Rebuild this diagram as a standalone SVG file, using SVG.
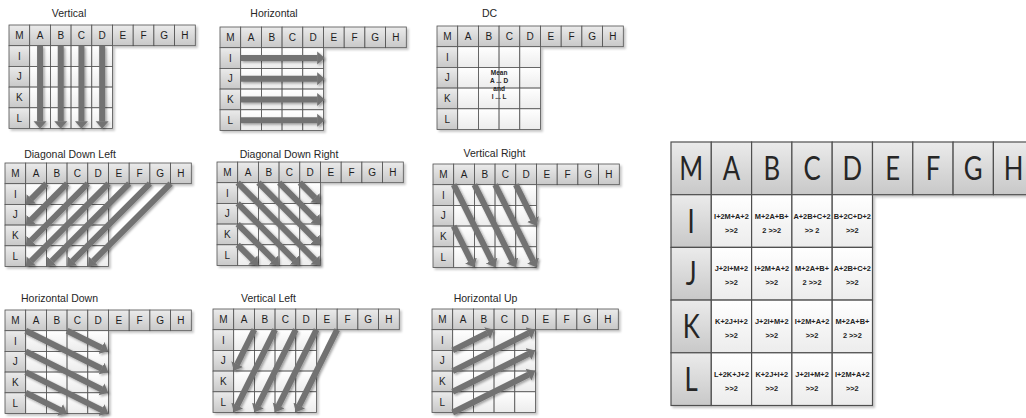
<svg xmlns="http://www.w3.org/2000/svg" xmlns:xlink="http://www.w3.org/1999/xlink" width="1026" height="418" viewBox="0 0 1026 418">
<style>
.t{font-family:"Liberation Sans",Arial,sans-serif;font-size:10.5px;fill:#262626;text-anchor:middle}
.l{font-family:"Liberation Sans",Arial,sans-serif;font-size:10px;fill:#1e1e1e;text-anchor:middle}
.h{fill:url(#gh);stroke:#505050;stroke-width:0.8}
.b{fill:url(#gb);stroke:#505050;stroke-width:0.8}
.H{fill:url(#gh);stroke:#505050;stroke-width:1.2}
.B{fill:url(#gb);stroke:#505050;stroke-width:1.2}
.big{font-family:Lato,"Liberation Sans",Arial,sans-serif;font-weight:400;font-size:33px;fill:#262626;text-anchor:middle}
.f{font-family:"Liberation Sans",Arial,sans-serif;font-weight:bold;font-size:7.4px;fill:#222;text-anchor:middle}
.dc{font-family:"Liberation Sans",Arial,sans-serif;font-weight:bold;font-size:6.5px;fill:#222;text-anchor:middle}
.a{stroke:#727272;stroke-width:6;fill:none;marker-end:url(#ah)}
</style>
<defs>
<linearGradient id="gh" x1="0" y1="0" x2="0" y2="1"><stop offset="0" stop-color="#ebebeb"/><stop offset="1" stop-color="#c8c8c8"/></linearGradient>
<linearGradient id="gb" x1="0" y1="0" x2="0" y2="1"><stop offset="0" stop-color="#ffffff"/><stop offset="1" stop-color="#ececec"/></linearGradient>
<filter id="gs" x="-10%" y="-10%" width="130%" height="130%"><feDropShadow dx="2" dy="2" stdDeviation="1" flood-color="#000" flood-opacity="0.22"/></filter>
<filter id="ash" x="-10%" y="-10%" width="130%" height="130%"><feDropShadow dx="1.5" dy="1.5" stdDeviation="0.8" flood-color="#000" flood-opacity="0.35"/></filter>
<marker id="ah" viewBox="0 -7 8 14" markerWidth="8" markerHeight="14" refX="0.3" refY="0" markerUnits="userSpaceOnUse" orient="auto"><path d="M0,-6.5 L7.5,0 L0,6.5 Z" fill="#727272"/></marker>
<g id="cells">
<rect class="h" x="0" y="0" width="20.7" height="20.7"/><rect class="h" x="20.7" y="0" width="20.7" height="20.7"/><rect class="h" x="41.4" y="0" width="20.7" height="20.7"/><rect class="h" x="62.1" y="0" width="20.7" height="20.7"/><rect class="h" x="82.8" y="0" width="20.7" height="20.7"/><rect class="h" x="103.5" y="0" width="20.7" height="20.7"/><rect class="h" x="124.2" y="0" width="20.7" height="20.7"/><rect class="h" x="144.9" y="0" width="20.7" height="20.7"/><rect class="h" x="165.6" y="0" width="20.7" height="20.7"/>
<rect class="h" x="0" y="20.7" width="20.7" height="20.7"/><rect class="h" x="0" y="41.4" width="20.7" height="20.7"/><rect class="h" x="0" y="62.1" width="20.7" height="20.7"/><rect class="h" x="0" y="82.8" width="20.7" height="20.7"/>
<rect class="b" x="20.7" y="20.7" width="20.7" height="20.7"/><rect class="b" x="41.4" y="20.7" width="20.7" height="20.7"/><rect class="b" x="62.1" y="20.7" width="20.7" height="20.7"/><rect class="b" x="82.8" y="20.7" width="20.7" height="20.7"/>
<rect class="b" x="20.7" y="41.4" width="20.7" height="20.7"/><rect class="b" x="41.4" y="41.4" width="20.7" height="20.7"/><rect class="b" x="62.1" y="41.4" width="20.7" height="20.7"/><rect class="b" x="82.8" y="41.4" width="20.7" height="20.7"/>
<rect class="b" x="20.7" y="62.1" width="20.7" height="20.7"/><rect class="b" x="41.4" y="62.1" width="20.7" height="20.7"/><rect class="b" x="62.1" y="62.1" width="20.7" height="20.7"/><rect class="b" x="82.8" y="62.1" width="20.7" height="20.7"/>
<rect class="b" x="20.7" y="82.8" width="20.7" height="20.7"/><rect class="b" x="41.4" y="82.8" width="20.7" height="20.7"/><rect class="b" x="62.1" y="82.8" width="20.7" height="20.7"/><rect class="b" x="82.8" y="82.8" width="20.7" height="20.7"/>
</g>
</defs>
<rect width="1026" height="418" fill="#ffffff"/>

<g id="g-vertical" transform="translate(9,25)">
<text class="t" x="60" y="-8">Vertical</text>
<use xlink:href="#cells" href="#cells" filter="url(#gs)"/>
<text class="l" x="10.35" y="14">M</text><text class="l" x="31.05" y="14">A</text><text class="l" x="51.75" y="14">B</text><text class="l" x="72.45" y="14">C</text><text class="l" x="93.15" y="14">D</text><text class="l" x="113.85" y="14">E</text><text class="l" x="134.55" y="14">F</text><text class="l" x="155.25" y="14">G</text><text class="l" x="175.95" y="14">H</text>
<text class="l" x="10.35" y="34.65">I</text><text class="l" x="10.35" y="55.35">J</text><text class="l" x="10.35" y="76.05">K</text><text class="l" x="10.35" y="96.75">L</text>
</g>

<g id="g-horizontal" transform="translate(220,27)">
<text class="t" x="54" y="-10">Horizontal</text>
<use xlink:href="#cells" href="#cells" filter="url(#gs)"/>
<text class="l" x="10.35" y="14">M</text><text class="l" x="31.05" y="14">A</text><text class="l" x="51.75" y="14">B</text><text class="l" x="72.45" y="14">C</text><text class="l" x="93.15" y="14">D</text><text class="l" x="113.85" y="14">E</text><text class="l" x="134.55" y="14">F</text><text class="l" x="155.25" y="14">G</text><text class="l" x="175.95" y="14">H</text>
<text class="l" x="10.35" y="34.65">I</text><text class="l" x="10.35" y="55.35">J</text><text class="l" x="10.35" y="76.05">K</text><text class="l" x="10.35" y="96.75">L</text>
</g>

<g id="g-dc" transform="translate(437,26)">
<text class="t" x="52.5" y="-9">DC</text>
<use xlink:href="#cells" href="#cells" filter="url(#gs)"/>
<text class="l" x="10.35" y="14">M</text><text class="l" x="31.05" y="14">A</text><text class="l" x="51.75" y="14">B</text><text class="l" x="72.45" y="14">C</text><text class="l" x="93.15" y="14">D</text><text class="l" x="113.85" y="14">E</text><text class="l" x="134.55" y="14">F</text><text class="l" x="155.25" y="14">G</text><text class="l" x="175.95" y="14">H</text>
<text class="l" x="10.35" y="34.65">I</text><text class="l" x="10.35" y="55.35">J</text><text class="l" x="10.35" y="76.05">K</text><text class="l" x="10.35" y="96.75">L</text>
<text class="dc" x="62.1" y="48.5">Mean</text><text class="dc" x="62.1" y="56.5">A ... D</text><text class="dc" x="62.1" y="64.5">and</text><text class="dc" x="62.1" y="72.5">I ... L</text>
</g>

<g id="g-diag-down-left" transform="translate(5,163)">
<text class="t" x="65" y="-5">Diagonal Down Left</text>
<use xlink:href="#cells" href="#cells" filter="url(#gs)"/>
<text class="l" x="10.35" y="14">M</text><text class="l" x="31.05" y="14">A</text><text class="l" x="51.75" y="14">B</text><text class="l" x="72.45" y="14">C</text><text class="l" x="93.15" y="14">D</text><text class="l" x="113.85" y="14">E</text><text class="l" x="134.55" y="14">F</text><text class="l" x="155.25" y="14">G</text><text class="l" x="175.95" y="14">H</text>
<text class="l" x="10.35" y="34.65">I</text><text class="l" x="10.35" y="55.35">J</text><text class="l" x="10.35" y="76.05">K</text><text class="l" x="10.35" y="96.75">L</text>
</g>

<g id="g-diag-down-right" transform="translate(217,162)">
<text class="t" x="72" y="-4">Diagonal Down Right</text>
<use xlink:href="#cells" href="#cells" filter="url(#gs)"/>
<text class="l" x="10.35" y="14">M</text><text class="l" x="31.05" y="14">A</text><text class="l" x="51.75" y="14">B</text><text class="l" x="72.45" y="14">C</text><text class="l" x="93.15" y="14">D</text><text class="l" x="113.85" y="14">E</text><text class="l" x="134.55" y="14">F</text><text class="l" x="155.25" y="14">G</text><text class="l" x="175.95" y="14">H</text>
<text class="l" x="10.35" y="34.65">I</text><text class="l" x="10.35" y="55.35">J</text><text class="l" x="10.35" y="76.05">K</text><text class="l" x="10.35" y="96.75">L</text>
</g>

<g id="g-vertical-right" transform="translate(433,164)">
<text class="t" x="61.5" y="-7">Vertical Right</text>
<use xlink:href="#cells" href="#cells" filter="url(#gs)"/>
<text class="l" x="10.35" y="14">M</text><text class="l" x="31.05" y="14">A</text><text class="l" x="51.75" y="14">B</text><text class="l" x="72.45" y="14">C</text><text class="l" x="93.15" y="14">D</text><text class="l" x="113.85" y="14">E</text><text class="l" x="134.55" y="14">F</text><text class="l" x="155.25" y="14">G</text><text class="l" x="175.95" y="14">H</text>
<text class="l" x="10.35" y="34.65">I</text><text class="l" x="10.35" y="55.35">J</text><text class="l" x="10.35" y="76.05">K</text><text class="l" x="10.35" y="96.75">L</text>
</g>

<g id="g-horizontal-down" transform="translate(5,310)">
<text class="t" x="54.5" y="-8">Horizontal Down</text>
<use xlink:href="#cells" href="#cells" filter="url(#gs)"/>
<text class="l" x="10.35" y="14">M</text><text class="l" x="31.05" y="14">A</text><text class="l" x="51.75" y="14">B</text><text class="l" x="72.45" y="14">C</text><text class="l" x="93.15" y="14">D</text><text class="l" x="113.85" y="14">E</text><text class="l" x="134.55" y="14">F</text><text class="l" x="155.25" y="14">G</text><text class="l" x="175.95" y="14">H</text>
<text class="l" x="10.35" y="34.65">I</text><text class="l" x="10.35" y="55.35">J</text><text class="l" x="10.35" y="76.05">K</text><text class="l" x="10.35" y="96.75">L</text>
</g>

<g id="g-vertical-left" transform="translate(213,309)">
<text class="t" x="55.5" y="-7.5">Vertical Left</text>
<use xlink:href="#cells" href="#cells" filter="url(#gs)"/>
<text class="l" x="10.35" y="14">M</text><text class="l" x="31.05" y="14">A</text><text class="l" x="51.75" y="14">B</text><text class="l" x="72.45" y="14">C</text><text class="l" x="93.15" y="14">D</text><text class="l" x="113.85" y="14">E</text><text class="l" x="134.55" y="14">F</text><text class="l" x="155.25" y="14">G</text><text class="l" x="175.95" y="14">H</text>
<text class="l" x="10.35" y="34.65">I</text><text class="l" x="10.35" y="55.35">J</text><text class="l" x="10.35" y="76.05">K</text><text class="l" x="10.35" y="96.75">L</text>
</g>

<g id="g-horizontal-up" transform="translate(432,309)">
<text class="t" x="53.5" y="-7">Horizontal Up</text>
<use xlink:href="#cells" href="#cells" filter="url(#gs)"/>
<text class="l" x="10.35" y="14">M</text><text class="l" x="31.05" y="14">A</text><text class="l" x="51.75" y="14">B</text><text class="l" x="72.45" y="14">C</text><text class="l" x="93.15" y="14">D</text><text class="l" x="113.85" y="14">E</text><text class="l" x="134.55" y="14">F</text><text class="l" x="155.25" y="14">G</text><text class="l" x="175.95" y="14">H</text>
<text class="l" x="10.35" y="34.65">I</text><text class="l" x="10.35" y="55.35">J</text><text class="l" x="10.35" y="76.05">K</text><text class="l" x="10.35" y="96.75">L</text>
</g>

<g id="g-table">
<g filter="url(#gs)">
<rect class="H" x="671" y="142" width="40.3" height="52.7"/><rect class="H" x="711.3" y="142" width="40.3" height="52.7"/><rect class="H" x="751.6" y="142" width="40.3" height="52.7"/><rect class="H" x="791.9" y="142" width="40.3" height="52.7"/><rect class="H" x="832.2" y="142" width="40.3" height="52.7"/><rect class="H" x="872.5" y="142" width="40.3" height="52.7"/><rect class="H" x="912.8" y="142" width="40.3" height="52.7"/><rect class="H" x="953.1" y="142" width="40.3" height="52.7"/><rect class="H" x="993.4" y="142" width="40.3" height="52.7"/>
<rect class="H" x="671" y="194.7" width="40.3" height="52.7"/><rect class="H" x="671" y="247.4" width="40.3" height="52.7"/><rect class="H" x="671" y="300.1" width="40.3" height="52.7"/><rect class="H" x="671" y="352.8" width="40.3" height="52.7"/>
<rect class="B" x="711.3" y="194.7" width="40.3" height="52.7"/><rect class="B" x="751.6" y="194.7" width="40.3" height="52.7"/><rect class="B" x="791.9" y="194.7" width="40.3" height="52.7"/><rect class="B" x="832.2" y="194.7" width="40.3" height="52.7"/>
<rect class="B" x="711.3" y="247.4" width="40.3" height="52.7"/><rect class="B" x="751.6" y="247.4" width="40.3" height="52.7"/><rect class="B" x="791.9" y="247.4" width="40.3" height="52.7"/><rect class="B" x="832.2" y="247.4" width="40.3" height="52.7"/>
<rect class="B" x="711.3" y="300.1" width="40.3" height="52.7"/><rect class="B" x="751.6" y="300.1" width="40.3" height="52.7"/><rect class="B" x="791.9" y="300.1" width="40.3" height="52.7"/><rect class="B" x="832.2" y="300.1" width="40.3" height="52.7"/>
<rect class="B" x="711.3" y="352.8" width="40.3" height="52.7"/><rect class="B" x="751.6" y="352.8" width="40.3" height="52.7"/><rect class="B" x="791.9" y="352.8" width="40.3" height="52.7"/><rect class="B" x="832.2" y="352.8" width="40.3" height="52.7"/>
</g>
<text class="big" transform="translate(691.15,179.8) scale(0.78,1)">M</text>
<text class="big" transform="translate(731.45,179.8) scale(0.78,1)">A</text>
<text class="big" transform="translate(771.75,179.8) scale(0.78,1)">B</text>
<text class="big" transform="translate(812.05,179.8) scale(0.78,1)">C</text>
<text class="big" transform="translate(852.35,179.8) scale(0.78,1)">D</text>
<text class="big" transform="translate(892.65,179.8) scale(0.78,1)">E</text>
<text class="big" transform="translate(932.95,179.8) scale(0.78,1)">F</text>
<text class="big" transform="translate(973.25,179.8) scale(0.78,1)">G</text>
<text class="big" transform="translate(1013.55,179.8) scale(0.78,1)">H</text>
<text class="big" transform="translate(691.15,232.5) scale(0.78,1)">I</text>
<text class="big" transform="translate(691.15,285.2) scale(0.78,1)">J</text>
<text class="big" transform="translate(691.15,337.9) scale(0.78,1)">K</text>
<text class="big" transform="translate(691.15,390.6) scale(0.78,1)">L</text>
<text class="f" x="731.45" y="218.7">I+2M+A+2</text><text class="f" x="731.45" y="232.7">&gt;&gt;2</text>
<text class="f" x="771.75" y="218.7">M+2A+B+</text><text class="f" x="771.75" y="232.7">2 &gt;&gt;2</text>
<text class="f" x="812.05" y="218.7">A+2B+C+2</text><text class="f" x="812.05" y="232.7">&gt;&gt; 2</text>
<text class="f" x="852.35" y="218.7">B+2C+D+2</text><text class="f" x="852.35" y="232.7">&gt;&gt;2</text>
<text class="f" x="731.45" y="271.4">J+2I+M+2</text><text class="f" x="731.45" y="285.4">&gt;&gt;2</text>
<text class="f" x="771.75" y="271.4">I+2M+A+2</text><text class="f" x="771.75" y="285.4">&gt;&gt;2</text>
<text class="f" x="812.05" y="271.4">M+2A+B+</text><text class="f" x="812.05" y="285.4">2 &gt;&gt;2</text>
<text class="f" x="852.35" y="271.4">A+2B+C+2</text><text class="f" x="852.35" y="285.4">&gt;&gt;2</text>
<text class="f" x="731.45" y="324.1">K+2J+I+2</text><text class="f" x="731.45" y="338.1">&gt;&gt;2</text>
<text class="f" x="771.75" y="324.1">J+2I+M+2</text><text class="f" x="771.75" y="338.1">&gt;&gt;2</text>
<text class="f" x="812.05" y="324.1">I+2M+A+2</text><text class="f" x="812.05" y="338.1">&gt;&gt;2</text>
<text class="f" x="852.35" y="324.1">M+2A+B+</text><text class="f" x="852.35" y="338.1">2 &gt;&gt;2</text>
<text class="f" x="731.45" y="376.8">L+2K+J+2</text><text class="f" x="731.45" y="390.8">&gt;&gt;2</text>
<text class="f" x="771.75" y="376.8">K+2J+I+2</text><text class="f" x="771.75" y="390.8">&gt;&gt;2</text>
<text class="f" x="812.05" y="376.8">J+2I+M+2</text><text class="f" x="812.05" y="390.8">&gt;&gt;2</text>
<text class="f" x="852.35" y="376.8">I+2M+A+2</text><text class="f" x="852.35" y="390.8">&gt;&gt;2</text>
</g>

<g id="connectors" filter="url(#ash)">
<g id="c-vertical" transform="translate(9,25)">
<line class="a" x1="31.05" y1="20.7" x2="31.05" y2="96.5"/><line class="a" x1="51.75" y1="20.7" x2="51.75" y2="96.5"/><line class="a" x1="72.45" y1="20.7" x2="72.45" y2="96.5"/><line class="a" x1="93.15" y1="20.7" x2="93.15" y2="96.5"/>
</g>
<g id="c-horizontal" transform="translate(220,27)">
<line class="a" x1="20.7" y1="31.05" x2="97.5" y2="31.05"/><line class="a" x1="20.7" y1="51.75" x2="97.5" y2="51.75"/><line class="a" x1="20.7" y1="72.45" x2="97.5" y2="72.45"/><line class="a" x1="20.7" y1="93.15" x2="97.5" y2="93.15"/>
</g>
<g id="c-ddl" transform="translate(5,163)">
<line class="a" x1="41.4" y1="20.7" x2="26" y2="36.1"/><line class="a" x1="62.1" y1="20.7" x2="26" y2="56.8"/><line class="a" x1="82.8" y1="20.7" x2="26" y2="77.5"/><line class="a" x1="103.5" y1="20.7" x2="26" y2="98.2"/><line class="a" x1="124.2" y1="20.7" x2="46.7" y2="98.2"/><line class="a" x1="144.9" y1="20.7" x2="67.4" y2="98.2"/><line class="a" x1="165.6" y1="20.7" x2="88.1" y2="98.2"/>
</g>
<g id="c-ddr" transform="translate(217,162)">
<line class="a" x1="20.7" y1="20.7" x2="98.2" y2="98.2"/><line class="a" x1="41.4" y1="20.7" x2="98.2" y2="77.5"/><line class="a" x1="62.1" y1="20.7" x2="98.2" y2="56.8"/><line class="a" x1="82.8" y1="20.7" x2="98.2" y2="36.1"/><line class="a" x1="20.7" y1="41.4" x2="77.5" y2="98.2"/><line class="a" x1="20.7" y1="62.1" x2="56.8" y2="98.2"/><line class="a" x1="20.7" y1="82.8" x2="36.1" y2="98.2"/>
</g>
<g id="c-vr" transform="translate(433,164)">
<line class="a" x1="20.7" y1="20.7" x2="58.75" y2="96.8"/><line class="a" x1="41.4" y1="20.7" x2="79.45" y2="96.8"/><line class="a" x1="62.1" y1="20.7" x2="100.15" y2="96.8"/><line class="a" x1="82.8" y1="20.7" x2="100.15" y2="55.4"/><line class="a" x1="20.7" y1="62.1" x2="38.05" y2="96.8"/>
</g>
<g id="c-hd" transform="translate(5,310)">
<line class="a" x1="20.7" y1="20.7" x2="96.8" y2="58.75"/><line class="a" x1="62.1" y1="20.7" x2="96.8" y2="38.05"/><line class="a" x1="20.7" y1="41.4" x2="96.8" y2="79.45"/><line class="a" x1="20.7" y1="62.1" x2="96.8" y2="100.15"/><line class="a" x1="20.7" y1="82.8" x2="55.4" y2="100.15"/>
</g>
<g id="c-vl" transform="translate(213,309)">
<line class="a" x1="41.4" y1="20.7" x2="24.05" y2="55.4"/><line class="a" x1="62.1" y1="20.7" x2="24.05" y2="96.8"/><line class="a" x1="82.8" y1="20.7" x2="44.75" y2="96.8"/><line class="a" x1="103.5" y1="20.7" x2="65.45" y2="96.8"/><line class="a" x1="124.2" y1="20.7" x2="86.15" y2="96.8"/>
</g>
<g id="c-hu" transform="translate(432,309)">
<line class="a" x1="20.7" y1="41.4" x2="55.4" y2="24.05"/><line class="a" x1="20.7" y1="62.1" x2="96.8" y2="24.05"/><line class="a" x1="20.7" y1="82.8" x2="96.8" y2="44.75"/><line class="a" x1="20.7" y1="103.5" x2="96.8" y2="65.45"/>
</g>
</g>
</svg>
